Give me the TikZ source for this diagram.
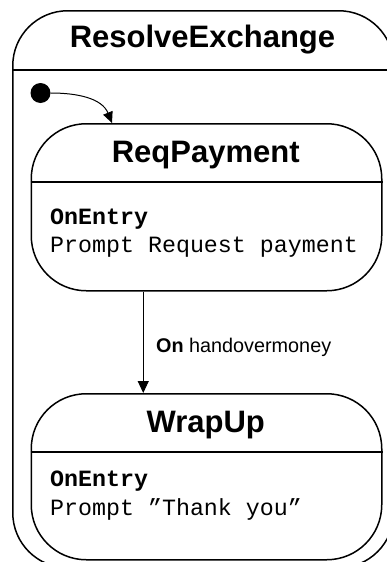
\documentclass[tikz,border=0pt]{standalone}
\usepackage{fontspec}
\setmainfont{Liberation Sans}
\setmonofont{Liberation Mono}
\usetikzlibrary{arrows.meta}

\tikzset{
    statebox/.style={draw, line width=1.5pt, rounded corners=55pt, minimum width=350.5pt,
        minimum height=167pt, inner sep=0pt, anchor=north west},
    statename/.style={font=\fontsize{31}{31}\selectfont\bfseries, anchor=base, inner sep=0pt},
    action/.style={font=\fontsize{23.3}{23.3}\selectfont\ttfamily, anchor=base west, inner sep=0pt},
    divider/.style={line width=1.5pt},
}

\begin{document}
\begin{tikzpicture}[x=1pt, y=-1pt, >={Triangle[length=12pt, width=11pt]}]
    \useasboundingbox (0,0) rectangle (387,562);

    % composite state
    \node[statebox, minimum width=381pt, minimum height=557pt] (resolve) at (12,10) {};
    \draw[divider] ([yshift=-60pt]resolve.north west) -- ([yshift=-60pt]resolve.north east);
    \node[statename] (resolvename) at (202.5,47) {ResolveExchange};

    \node[circle, fill, minimum size=20pt, inner sep=0pt] (init) at (40.5,93) {};

    % inner states
    \node[statebox] (req) at (30.5,123) {};
    \draw[divider] ([yshift=-59pt]req.north west) -- ([yshift=-59pt]req.north east);
    \node[statename] (reqname) at (205.75,162) {ReqPayment};
    \node[action] (reqentry) at (50,224) {\textbf{OnEntry}};
    \node[action] (reqprompt) at (50,252) {Prompt Request payment};

    \node[statebox, minimum height=166pt] (wrap) at (30.5,393) {};
    \draw[divider] ([yshift=-59pt]wrap.north west) -- ([yshift=-59pt]wrap.north east);
    \node[statename] (wrapname) at (205.75,432) {WrapUp};
    \node[action] (wrapentry) at (50,486) {\textbf{OnEntry}};
    \node[action] (wrapprompt) at (50,515) {Prompt ”Thank you”};

    % transitions
    \draw[-{Triangle[length=11pt, width=10pt]}, line width=1pt]
        (init.east) to[out=0, in=112] ([xshift=81.5pt]req.north west);
    \draw[->, line width=1pt] ([xshift=-63.25pt]req.south) -- ([xshift=-63.25pt]wrap.north);
    \node[font=\fontsize{19.8}{19.8}\selectfont, anchor=base west, inner sep=0pt] (trigger)
        at (156,352) {\textbf{On} handovermoney};
\end{tikzpicture}
\end{document}
